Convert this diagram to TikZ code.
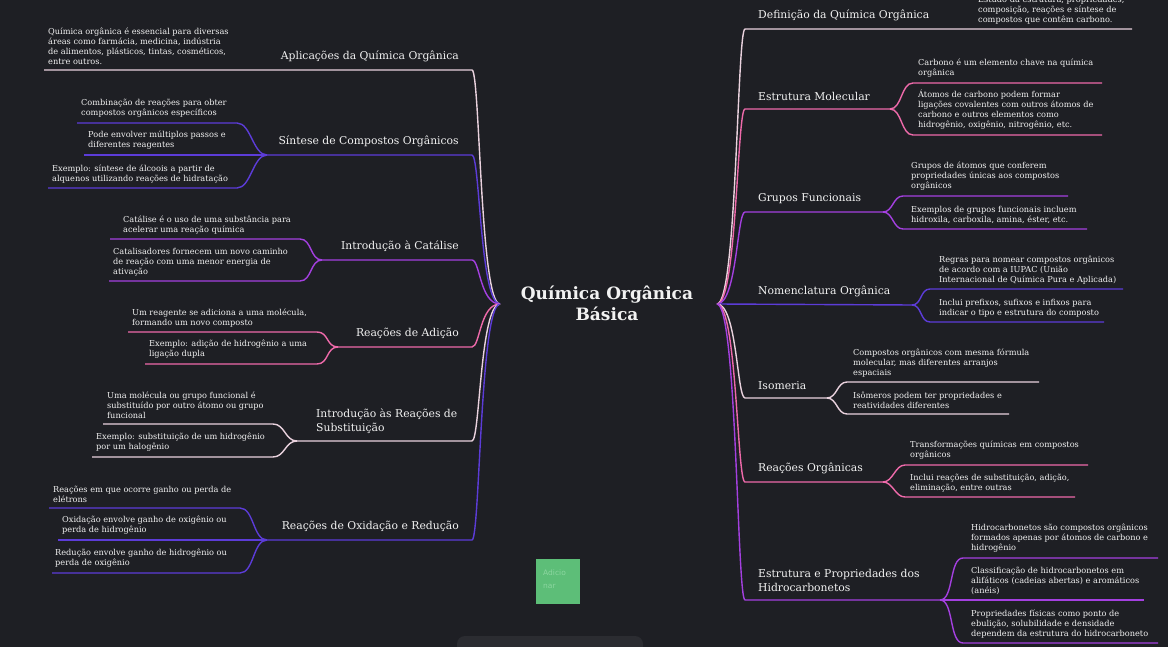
\documentclass[tikz,border=0pt]{standalone}
\usepackage{fontspec}
\setmainfont{DejaVu Serif}
\newfontfamily\btnfont{DejaVu Sans}
\usetikzlibrary{positioning}

\definecolor{bgc}{RGB}{30,31,36}
\definecolor{txt}{RGB}{242,242,242}
\definecolor{lpk}{RGB}{234,210,222}
\definecolor{pk}{RGB}{238,106,170}
\definecolor{vio}{RGB}{164,64,224}
\definecolor{blu}{RGB}{92,60,216}
\definecolor{btngreen}{RGB}{93,190,120}
\definecolor{btntxt}{RGB}{140,214,160}
\definecolor{panel}{RGB}{43,44,49}

\begin{document}
\begin{tikzpicture}[x=1pt, y=-1pt,
  title/.style={text=txt, inner sep=0pt, align=center, font=\fontsize{17}{21}\selectfont\bfseries},
  topic/.style={text=txt, inner sep=0pt, align=left, font=\fontsize{10.8}{14}\selectfont},
  leaf/.style={text=txt, inner sep=0pt, align=left, font=\fontsize{8.2}{10}\selectfont},
  lpkl/.style={draw=lpk, line width=1.4pt},
  pkl/.style={draw=pk, line width=1.4pt},
  viol/.style={draw=vio, line width=1.4pt},
  blul/.style={draw=blu, line width=1.4pt}]

\pgfdeclarelayer{bg}    % background layer
\pgfsetlayers{bg,main}

\useasboundingbox (0,0) rectangle (1168,647);
\begin{pgfonlayer}{bg}
\fill[bgc] (0,0) rectangle (1168,647);
\end{pgfonlayer}

% centre
\node[title] (title) at (607,303) {Química Orgânica\\Básica};
\coordinate (cL) at (500,304);
\coordinate (cR) at (717,304);

%% left side
% Aplicacoes
\node[topic, anchor=south east] (apl) at (459,62) {Aplicações da Química Orgânica};
\coordinate (apl-j) at (236,70);
\coordinate (apl-e) at (472,70);
\node[leaf, anchor=south west] (apl-1) at (48,65) {Química orgânica é essencial para diversas\\áreas como farmácia, medicina, indústria\\de alimentos, plásticos, tintas, cosméticos,\\entre outros.};
\coordinate (apl-1s) at (44,70);
\draw[lpkl] (apl-1s) -- (apl-j) -- (apl-e) .. controls +(8,0) and +(-20,0) .. (cL);

% Sintese
\node[topic, anchor=south east] (sin) at (459,147) {Síntese de Compostos Orgânicos};
\coordinate (sin-j) at (267,155);
\coordinate (sin-e) at (472,155);
\node[leaf, anchor=south west] (sin-1) at (81,118) {Combinação de reações para obter\\compostos orgânicos específicos};
\node[leaf, anchor=south west] (sin-2) at (88,150) {Pode envolver múltiplos passos e\\diferentes reagentes};
\node[leaf, anchor=south west] (sin-3) at (52,183) {Exemplo: síntese de álcoois a partir de\\alquenos utilizando reações de hidratação};
\coordinate (sin-1s) at (77,123);  \coordinate (sin-1e) at (237,123);
\coordinate (sin-2s) at (84,155);
\coordinate (sin-3s) at (48,188);  \coordinate (sin-3e) at (237,188);
\draw[blul] (sin-j) -- (sin-e) .. controls +(8,0) and +(-20,0) .. (cL);
\draw[blul] (sin-j) .. controls +(-14,0) and +(14,0) .. (sin-1e) -- (sin-1s);
\draw[blul] (sin-j) -- (sin-2s);
\draw[blul] (sin-j) .. controls +(-14,0) and +(14,0) .. (sin-3e) -- (sin-3s);

% Catalise
\node[topic, anchor=south east] (cat) at (459,252) {Introdução à Catálise};
\coordinate (cat-j) at (322,260);
\coordinate (cat-e) at (472,260);
\node[leaf, anchor=south west] (cat-1) at (123,234) {Catálise é o uso de uma substância para\\acelerar uma reação química};
\node[leaf, anchor=south west] (cat-2) at (113,276) {Catalisadores fornecem um novo caminho\\de reação com uma menor energia de\\ativação};
\coordinate (cat-1s) at (110,239);  \coordinate (cat-1e) at (300,239);
\coordinate (cat-2s) at (109,281);  \coordinate (cat-2e) at (300,281);
\draw[viol] (cat-j) -- (cat-e) .. controls +(8,0) and +(-20,0) .. (cL);
\draw[viol] (cat-j) .. controls +(-12,0) and +(12,0) .. (cat-1e) -- (cat-1s);
\draw[viol] (cat-j) .. controls +(-12,0) and +(12,0) .. (cat-2e) -- (cat-2s);

% Adicao
\node[topic, anchor=south east] (adi) at (459,339) {Reações de Adição};
\coordinate (adi-j) at (338,347);
\coordinate (adi-e) at (472,347);
\node[leaf, anchor=south west] (adi-1) at (132,327) {Um reagente se adiciona a uma molécula,\\formando um novo composto};
\node[leaf, anchor=south west] (adi-2) at (149,359) {Exemplo: adição de hidrogênio a uma\\ligação dupla};
\coordinate (adi-1s) at (128,332);  \coordinate (adi-1e) at (317,332);
\coordinate (adi-2s) at (145,364);  \coordinate (adi-2e) at (317,364);
\draw[pkl] (adi-j) -- (adi-e) .. controls +(8,0) and +(-20,0) .. (cL);
\draw[pkl] (adi-j) .. controls +(-12,0) and +(12,0) .. (adi-1e) -- (adi-1s);
\draw[pkl] (adi-j) .. controls +(-12,0) and +(12,0) .. (adi-2e) -- (adi-2s);

% Substituicao
\node[topic, anchor=south west] (sub) at (316,434) {Introdução às Reações de\\Substituição};
\coordinate (sub-j) at (297,441);
\coordinate (sub-e) at (472,441);
\node[leaf, anchor=south west] (sub-1) at (107,419) {Uma molécula ou grupo funcional é\\substituído por outro átomo ou grupo\\funcional};
\node[leaf, anchor=south west] (sub-2) at (96,452) {Exemplo: substituição de um hidrogênio\\por um halogênio};
\coordinate (sub-1s) at (103,424);  \coordinate (sub-1e) at (273,424);
\coordinate (sub-2s) at (92,457);   \coordinate (sub-2e) at (273,457);
\draw[lpkl] (sub-j) -- (sub-e) .. controls +(8,0) and +(-20,0) .. (cL);
\draw[lpkl] (sub-j) .. controls +(-12,0) and +(12,0) .. (sub-1e) -- (sub-1s);
\draw[lpkl] (sub-j) .. controls +(-12,0) and +(12,0) .. (sub-2e) -- (sub-2s);

% Oxidacao
\node[topic, anchor=south east] (oxi) at (459,532) {Reações de Oxidação e Redução};
\coordinate (oxi-j) at (267,540);
\coordinate (oxi-e) at (472,540);
\node[leaf, anchor=south west] (oxi-1) at (53,503) {Reações em que ocorre ganho ou perda de\\elétrons};
\node[leaf, anchor=south west] (oxi-2) at (62,535) {Oxidação envolve ganho de oxigênio ou\\perda de hidrogênio};
\node[leaf, anchor=south west] (oxi-3) at (55,568) {Redução envolve ganho de hidrogênio ou\\perda de oxigênio};
\coordinate (oxi-1s) at (49,508);  \coordinate (oxi-1e) at (240,508);
\coordinate (oxi-2s) at (58,540);
\coordinate (oxi-3s) at (52,573);  \coordinate (oxi-3e) at (240,573);
\draw[blul] (oxi-j) -- (oxi-e) .. controls +(8,0) and +(-20,0) .. (cL);
\draw[blul] (oxi-j) .. controls +(-14,0) and +(14,0) .. (oxi-1e) -- (oxi-1s);
\draw[blul] (oxi-j) -- (oxi-2s);
\draw[blul] (oxi-j) .. controls +(-14,0) and +(14,0) .. (oxi-3e) -- (oxi-3s);

%% right side
% Definicao
\node[topic, anchor=south west] (def) at (758,21) {Definição da Química Orgânica};
\coordinate (def-e) at (745,29);
\coordinate (def-j) at (940,29);
\node[leaf, anchor=south west] (def-1) at (978,24) {Estudo da estrutura, propriedades,\\composição, reações e síntese de\\compostos que contêm carbono.};
\coordinate (def-1e) at (1132,29);
\draw[lpkl] (cR) .. controls +(20,0) and +(-8,0) .. (def-e) -- (def-j) -- (def-1e);

% Estrutura molecular
\node[topic, anchor=south west] (est) at (758,101) {Estrutura Molecular};
\coordinate (est-e) at (745,109);
\coordinate (est-j) at (890,109);
\node[leaf, anchor=south west] (est-1) at (918,78) {Carbono é um elemento chave na química\\orgânica};
\node[leaf, anchor=south west] (est-2) at (918,130) {Átomos de carbono podem formar\\ligações covalentes com outros átomos de\\carbono e outros elementos como\\hidrogênio, oxigênio, nitrogênio, etc.};
\coordinate (est-1s) at (913,83);   \coordinate (est-1e) at (1102,83);
\coordinate (est-2s) at (913,135);  \coordinate (est-2e) at (1102,135);
\draw[pkl] (cR) .. controls +(20,0) and +(-8,0) .. (est-e) -- (est-j);
\draw[pkl] (est-j) .. controls +(12,0) and +(-12,0) .. (est-1s) -- (est-1e);
\draw[pkl] (est-j) .. controls +(12,0) and +(-12,0) .. (est-2s) -- (est-2e);

% Grupos funcionais
\node[topic, anchor=south west] (gru) at (758,204) {Grupos Funcionais};
\coordinate (gru-e) at (745,212);
\coordinate (gru-j) at (883,212);
\node[leaf, anchor=south west] (gru-1) at (911,191) {Grupos de átomos que conferem\\propriedades únicas aos compostos\\orgânicos};
\node[leaf, anchor=south west] (gru-2) at (911,224) {Exemplos de grupos funcionais incluem\\hidroxila, carboxila, amina, éster, etc.};
\coordinate (gru-1s) at (903,196);  \coordinate (gru-1e) at (1068,196);
\coordinate (gru-2s) at (903,229);  \coordinate (gru-2e) at (1087,229);
\draw[viol] (cR) .. controls +(20,0) and +(-8,0) .. (gru-e) -- (gru-j);
\draw[viol] (gru-j) .. controls +(10,0) and +(-10,0) .. (gru-1s) -- (gru-1e);
\draw[viol] (gru-j) .. controls +(10,0) and +(-10,0) .. (gru-2s) -- (gru-2e);

% Nomenclatura
\node[topic, anchor=south west] (nom) at (758,297) {Nomenclatura Orgânica};
\coordinate (nom-j) at (912,305);
\node[leaf, anchor=south west] (nom-1) at (939,284) {Regras para nomear compostos orgânicos\\de acordo com a IUPAC (União\\Internacional de Química Pura e Aplicada)};
\node[leaf, anchor=south west] (nom-2) at (939,317) {Inclui prefixos, sufixos e infixos para\\indicar o tipo e estrutura do composto};
\coordinate (nom-1s) at (930,289);  \coordinate (nom-1e) at (1123,289);
\coordinate (nom-2s) at (930,322);  \coordinate (nom-2e) at (1104,322);
\draw[blul] (cR) -- (nom-j);
\draw[blul] (nom-j) .. controls +(10,0) and +(-10,0) .. (nom-1s) -- (nom-1e);
\draw[blul] (nom-j) .. controls +(10,0) and +(-10,0) .. (nom-2s) -- (nom-2e);

% Isomeria
\node[topic, anchor=south west] (iso) at (758,390) {Isomeria};
\coordinate (iso-e) at (745,398);
\coordinate (iso-j) at (827,398);
\node[leaf, anchor=south west] (iso-1) at (853,377) {Compostos orgânicos com mesma fórmula\\molecular, mas diferentes arranjos\\espaciais};
\node[leaf, anchor=south west] (iso-2) at (853,409) {Isômeros podem ter propriedades e\\reatividades diferentes};
\coordinate (iso-1s) at (847,382);  \coordinate (iso-1e) at (1039,382);
\coordinate (iso-2s) at (847,414);  \coordinate (iso-2e) at (1009,414);
\draw[lpkl] (cR) .. controls +(20,0) and +(-8,0) .. (iso-e) -- (iso-j);
\draw[lpkl] (iso-j) .. controls +(10,0) and +(-10,0) .. (iso-1s) -- (iso-1e);
\draw[lpkl] (iso-j) .. controls +(10,0) and +(-10,0) .. (iso-2s) -- (iso-2e);

% Reacoes organicas
\node[topic, anchor=south west] (reo) at (758,474) {Reações Orgânicas};
\coordinate (reo-e) at (745,482);
\coordinate (reo-j) at (883,482);
\node[leaf, anchor=south west] (reo-1) at (910,460) {Transformações químicas em compostos\\orgânicos};
\node[leaf, anchor=south west] (reo-2) at (910,492) {Inclui reações de substituição, adição,\\eliminação, entre outras};
\coordinate (reo-1s) at (905,465);  \coordinate (reo-1e) at (1088,465);
\coordinate (reo-2s) at (905,497);  \coordinate (reo-2e) at (1075,497);
\draw[pkl] (cR) .. controls +(20,0) and +(-8,0) .. (reo-e) -- (reo-j);
\draw[pkl] (reo-j) .. controls +(10,0) and +(-10,0) .. (reo-1s) -- (reo-1e);
\draw[pkl] (reo-j) .. controls +(10,0) and +(-10,0) .. (reo-2s) -- (reo-2e);

% Hidrocarbonetos
\node[topic, anchor=south west] (hid) at (758,592) {Estrutura e Propriedades dos\\Hidrocarbonetos};
\coordinate (hid-e) at (745,600);
\coordinate (hid-j) at (940,600);
\node[leaf, anchor=south west] (hid-1) at (971,553) {Hidrocarbonetos são compostos orgânicos\\formados apenas por átomos de carbono e\\hidrogênio};
\node[leaf, anchor=south west] (hid-2) at (971,595) {Classificação de hidrocarbonetos em\\alifáticos (cadeias abertas) e aromáticos\\(anéis)};
\node[leaf, anchor=south west] (hid-3) at (971,638) {Propriedades físicas como ponto de\\ebulição, solubilidade e densidade\\dependem da estrutura do hidrocarboneto};
\coordinate (hid-1s) at (963,558);  \coordinate (hid-1e) at (1158,558);
\coordinate (hid-2e) at (1144,600);
\coordinate (hid-3s) at (963,643);  \coordinate (hid-3e) at (1158,643);
\draw[viol] (cR) .. controls +(20,0) and +(-8,0) .. (hid-e) -- (hid-j);
\draw[viol] (hid-j) .. controls +(14,0) and +(-14,0) .. (hid-1s) -- (hid-1e);
\draw[viol] (hid-j) -- (hid-2e);
\draw[viol] (hid-j) .. controls +(14,0) and +(-14,0) .. (hid-3s) -- (hid-3e);

% button and panel
\node[fill=btngreen, minimum width=44pt, minimum height=45pt, inner sep=0pt] (add) at (558,581) {};
\node[text=btntxt, align=left, inner sep=0pt, font=\btnfont\fontsize{7.5}{13}\selectfont, anchor=north west] (add-t) at (543,570) {Adicio\\nar};
\fill[panel, rounded corners=8pt] (457,636) rectangle (643,662);

\end{tikzpicture}
\end{document}
